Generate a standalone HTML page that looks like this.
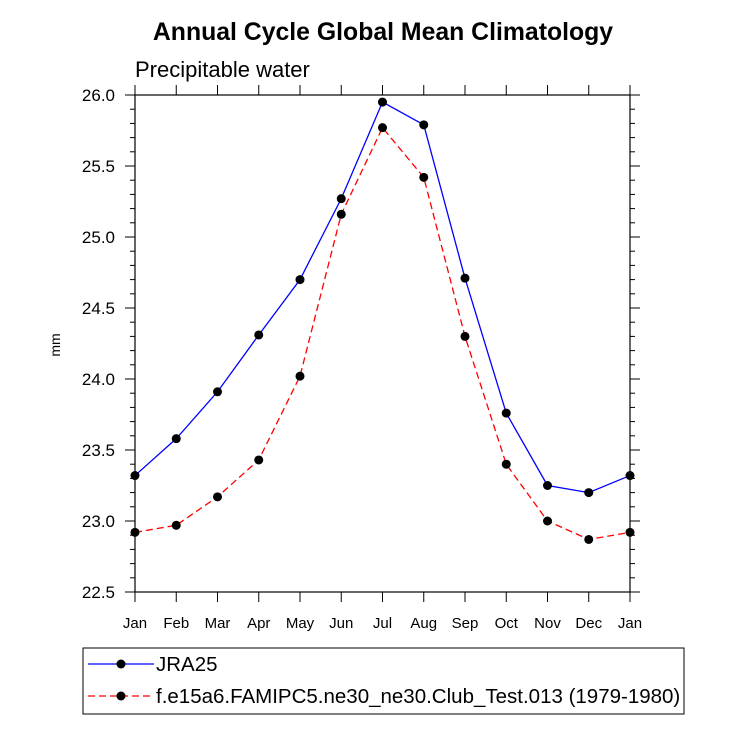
<!DOCTYPE html>
<html><head><meta charset="utf-8"><style>
body{margin:0;background:#fff;}
svg text{font-family:"Liberation Sans",Arial,sans-serif;}
</style></head><body>
<svg id="chart" width="733" height="734" xmlns="http://www.w3.org/2000/svg">
<text x="383" y="40" text-anchor="middle" font-size="24.8" font-weight="bold">Annual Cycle Global Mean Climatology</text>
<text x="135" y="77" font-size="22">Precipitable water</text>
<text transform="translate(60,345) rotate(-90)" text-anchor="middle" font-size="14">mm</text>
<g id="axes"></g>
<g id="series"></g>
<rect x="83" y="648" width="601" height="66" fill="none" stroke="#000" stroke-width="1"/>
<g>
<line x1="88" y1="664" x2="154" y2="664" stroke="#0000ff" stroke-width="1.3"/>
<circle cx="121" cy="664" r="4.5" fill="#000"/>
<text x="156" y="671" font-size="20.5">JRA25</text>
</g>
<g>
<line x1="88" y1="696" x2="154" y2="696" stroke="#ff0000" stroke-width="1.3" stroke-dasharray="7,4"/>
<circle cx="121" cy="696" r="4.5" fill="#000"/>
<text x="156" y="703" font-size="20.5">f.e15a6.FAMIPC5.ne30_ne30.Club_Test.013 (1979-1980)</text>
</g>
</svg>
<script>
const months=["Jan","Feb","Mar","Apr","May","Jun","Jul","Aug","Sep","Oct","Nov","Dec","Jan"];
const jra25=[23.32,23.58,23.91,24.31,24.70,25.27,25.95,25.79,24.71,23.76,23.25,23.20,23.32];
const model=[22.92,22.97,23.17,23.43,24.02,25.16,25.77,25.42,24.30,23.40,23.00,22.87,22.92];
const yTicks=["22.5","23.0","23.5","24.0","24.5","25.0","25.5","26.0"];
const X0=135,X1=630,Y0=592,Y1=95,YMIN=22.5,YMAX=26.0;
const NS="http://www.w3.org/2000/svg";
const xs=i=>X0+(X1-X0)*i/(months.length-1);
const ys=v=>Y0-(v-YMIN)/(YMAX-YMIN)*(Y0-Y1);
function mk(tag,attrs,parent){const e=document.createElementNS(NS,tag);for(const k in attrs)e.setAttribute(k,attrs[k]);parent.appendChild(e);return e;}
const ax=document.getElementById('axes');
const frame=mk('rect',{x:X0,y:Y1,width:X1-X0,height:Y0-Y1,fill:'none',stroke:'#000','stroke-width':1.2},ax);


for(let v=YMIN;v<=YMAX+1e-6;v+=0.1){
  const y=ys(v);const major=Math.abs((v*2)-Math.round(v*2))<1e-6;const L=major?10:5;
  const t1=mk('line',{x1:X0,x2:X0-L,y1:y,y2:y,stroke:'#000','stroke-width':1},ax);
  
  
  const t2=mk('line',{x1:X1,x2:X1+L,y1:y,y2:y,stroke:'#000','stroke-width':1},ax);
  
  
}
yTicks.forEach(s=>{
  const t=mk('text',{x:X0-20,y:ys(parseFloat(s))+6,'text-anchor':'end','font-size':17},ax);t.textContent=s;
  
  
});
months.forEach((m,i)=>{
  const x=xs(i);
  const a=mk('line',{x1:x,x2:x,y1:Y0,y2:Y0+10,stroke:'#000','stroke-width':1},ax);
  
  
  const b=mk('line',{x1:x,x2:x,y1:Y1,y2:Y1-10,stroke:'#000','stroke-width':1},ax);
  
  
  const t=mk('text',{x:x,y:628,'text-anchor':'middle','font-size':15},ax);t.textContent=m;
  
  
});
const sg=document.getElementById('series');
function draw(vals,color,dash,name){
  const g=mk('g',{},sg);
  
  
  const p=mk('polyline',{points:vals.map((v,i)=>xs(i)+','+ys(v)).join(' '),fill:'none',stroke:color,'stroke-width':1.3,'stroke-dasharray':dash},g);
  
  
  vals.forEach((v,i)=>{
    const c=mk('circle',{cx:xs(i),cy:ys(v),r:4.5,fill:'#000'},g);
    
    
  });
}
draw(jra25,'#0000ff','none','series-jra25');
draw(model,'#ff0000','7,4','series-model');
</script>
</body></html>
